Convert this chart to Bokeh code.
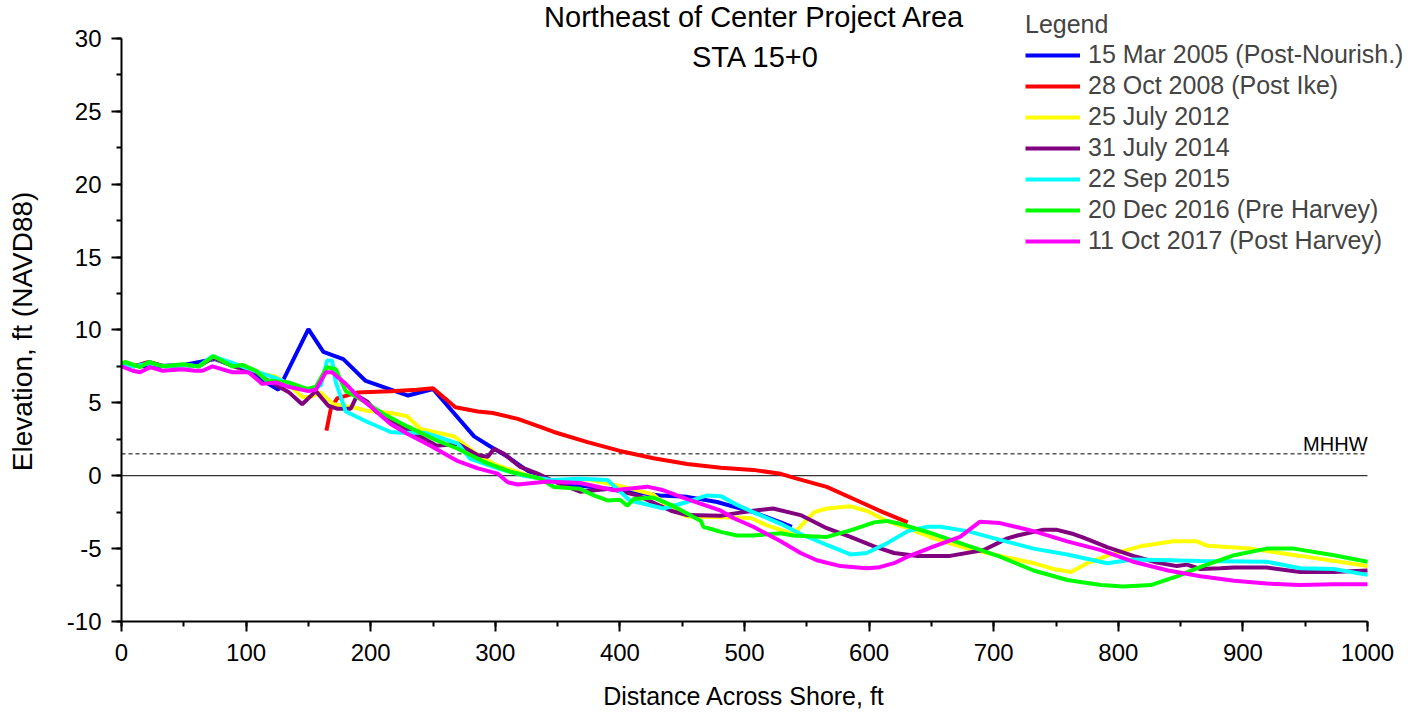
from bokeh.plotting import figure
from bokeh.models import Range1d, FixedTicker, Label, Legend, LegendItem
from bokeh.embed import file_html
from bokeh.resources import INLINE

# ---------------- data ----------------
series_names = [
    "15 Mar 2005 (Post-Nourish.)",
    "28 Oct 2008 (Post Ike)",
    "25 July 2012",
    "31 July 2014",
    "22 Sep 2015",
    "20 Dec 2016 (Pre Harvey)",
    "11 Oct 2017 (Post Harvey)",
]
series_colors = ["#0000FF", "#FF0000", "#FFFF00", "#800080", "#00FFFF", "#00FF00", "#FF00FF"]

blue_pts = [(0, 7.6), (20, 7.5), (50, 7.6), (75, 8.0), (100, 7.2), (110, 6.7), (126, 5.9),
            (150, 10.05), (162, 8.5), (178, 8.0), (196, 6.5), (230, 5.5), (250, 5.95),
            (283, 2.7), (296, 2.0), (310, 1.3), (323, 0.5), (336, -0.2), (360, -0.6),
            (395, -0.95), (432, -1.35), (454, -1.45), (478, -1.8), (507, -2.5), (529, -3.2),
            (538, -3.5)]

red_pts = [(164.5, 3.1), (168, 4.6), (173, 5.3), (189, 5.7), (216, 5.8), (237, 5.9), (250, 6.0),
           (268, 4.7), (286, 4.4), (298, 4.3), (318, 3.9), (336, 3.35), (347, 3.0), (374, 2.3),
           (400, 1.7), (427, 1.2), (454, 0.8), (481, 0.55), (507, 0.4), (529, 0.13), (542, -0.2),
           (566, -0.77), (593, -1.8), (611, -2.5), (631, -3.2)]

yellow_pts = [(0, 7.6), (10, 7.5), (22, 7.8), (35, 7.5), (50, 7.6), (62, 7.5), (74, 8.1), (90, 7.5),
              (100, 7.3), (113, 7.0), (124, 6.8), (135, 6.2), (145, 5.4), (152, 5.4), (160, 5.7),
              (170, 4.9), (186, 4.7), (197, 4.45), (216, 4.3), (229, 4.1), (240, 3.2), (251, 3.0),
              (267, 2.7), (283, 1.6), (299, 0.8), (323, 0.1), (345, -0.4), (374, -0.25), (400, -0.7),
              (427, -1.3), (441, -2.3), (454, -2.8), (481, -2.85), (505, -2.9), (518, -3.4),
              (539, -4.0), (556, -2.5), (566, -2.25), (585, -2.1), (598, -2.4), (614, -3.1),
              (631, -3.6), (652, -4.3), (679, -5.0), (705, -5.5), (732, -6.0), (748, -6.4),
              (762, -6.6), (775, -6.0), (794, -5.4), (820, -4.8), (844, -4.5), (863, -4.5),
              (871, -4.8), (906, -5.0), (946, -5.5), (1000, -6.2)]

purple_pts = [(0, 7.6), (10, 7.5), (22, 7.8), (35, 7.5), (50, 7.6), (62, 7.5), (74, 8.1), (90, 7.5),
              (100, 7.3), (108, 7.1), (116, 6.6), (134, 5.75), (145, 4.9), (156, 5.8), (166, 4.8),
              (173, 4.6), (184, 4.6), (189, 5.5), (197, 5.1), (205, 4.35), (229, 3.2), (253, 2.05),
              (270, 2.2), (286, 1.4), (294, 1.3), (299, 1.85), (307, 1.5), (320, 0.6), (334, 0.14),
              (350, -0.5), (368, -1.1), (392, -0.9), (414, -1.35), (441, -2.4), (454, -2.7),
              (481, -2.75), (491, -2.6), (507, -2.4), (523, -2.25), (545, -2.7), (566, -3.6),
              (585, -4.2), (604, -4.85), (620, -5.3), (639, -5.5), (665, -5.5), (692, -5.1),
              (711, -4.3), (719, -4.1), (740, -3.7), (750, -3.7), (764, -4.0), (772, -4.25),
              (791, -4.9), (812, -5.5), (831, -5.95), (847, -6.2), (855, -6.1), (866, -6.4),
              (882, -6.35), (893, -6.3), (919, -6.3), (946, -6.6), (973, -6.6), (1000, -6.5)]

cyan_pts = [(0, 7.6), (10, 7.5), (22, 7.7), (35, 7.5), (50, 7.6), (62, 7.5), (73, 8.2), (90, 7.7),
            (100, 7.4), (113, 7.0), (124, 6.7), (134, 6.3), (150, 5.9), (160, 6.2), (165, 7.9),
            (169, 7.9), (172, 6.4), (180, 4.4), (197, 3.7), (216, 3.0), (224, 2.95), (243, 2.95),
            (253, 2.7), (270, 2.2), (280, 1.15), (302, 0.5), (323, 0.0), (345, -0.3), (368, -0.2),
            (390, -0.3), (408, -1.7), (435, -2.25), (454, -1.8), (470, -1.35), (481, -1.4),
            (494, -2.0), (507, -2.5), (518, -2.9), (529, -3.3), (545, -4.0), (566, -4.75),
            (585, -5.4), (598, -5.3), (614, -4.65), (631, -3.8), (647, -3.5), (657, -3.5),
            (679, -3.8), (705, -4.4), (732, -5.0), (759, -5.4), (791, -6.0), (812, -5.75),
            (840, -5.8), (866, -5.85), (919, -5.9), (946, -6.35), (973, -6.4), (1000, -6.8)]

green_pts = [(0, 7.7), (3, 7.8), (15, 7.45), (22, 7.8), (33, 7.5), (49, 7.65), (62, 7.5), (74, 8.2),
             (89, 7.5), (97, 7.6), (108, 7.2), (116, 6.55), (134, 6.4), (149, 5.95), (156, 6.1),
             (165, 7.45), (172, 7.3), (180, 5.8), (189, 5.4), (210, 4.25), (229, 3.4), (251, 2.5),
             (270, 1.85), (291, 0.95), (312, 0.27), (336, -0.2), (347, -0.77), (368, -0.9),
             (379, -1.35), (390, -1.7), (400, -1.65), (406, -2.05), (411, -1.6), (427, -1.5),
             (441, -2.0), (465, -3.1), (467, -3.5), (481, -3.85), (494, -4.1), (507, -4.1),
             (529, -3.95), (539, -4.1), (566, -4.2), (585, -3.75), (604, -3.2), (614, -3.1),
             (625, -3.3), (652, -4.0), (679, -4.8), (705, -5.55), (732, -6.5), (759, -7.15),
             (786, -7.5), (804, -7.6), (826, -7.5), (847, -6.9), (866, -6.25), (893, -5.45),
             (919, -5.0), (941, -5.0), (973, -5.45), (1000, -5.9)]

magenta_pts = [(0, 7.5), (9, 7.2), (15, 7.1), (23, 7.45), (33, 7.2), (49, 7.3), (59, 7.2), (65, 7.2),
               (73, 7.5), (89, 7.1), (102, 7.1), (113, 6.3), (124, 6.4), (134, 6.1), (150, 5.8),
               (156, 5.9), (164, 7.1), (169, 7.1), (180, 6.3), (189, 5.5), (202, 4.6), (216, 3.55),
               (229, 2.9), (248, 2.05), (270, 1.0), (286, 0.5), (302, 0.14), (310, -0.45),
               (318, -0.6), (342, -0.4), (368, -0.5), (395, -1.0), (422, -0.75), (435, -1.0),
               (454, -1.6), (481, -2.4), (491, -2.9), (507, -3.5), (518, -4.0), (529, -4.5),
               (545, -5.3), (558, -5.8), (577, -6.2), (598, -6.35), (607, -6.3), (620, -6.0),
               (631, -5.55), (652, -4.85), (673, -4.2), (689, -3.15), (705, -3.25), (732, -3.8),
               (759, -4.5), (786, -5.1), (812, -5.9), (840, -6.5), (866, -6.9), (893, -7.2),
               (919, -7.4), (946, -7.5), (973, -7.45), (1000, -7.45)]

all_series = [blue_pts, red_pts, yellow_pts, purple_pts, cyan_pts, green_pts, magenta_pts]

mhhw_level = 1.5
ref_x = [0, 1000]                      # extent of the reference lines / x axis
y_bounds = (-10, 30)
x_ticks = list(range(0, 1001, 100))
x_minor = list(range(0, 1001, 50))
y_ticks = list(range(-10, 31, 5))
y_minor = [v / 2 for v in range(-20, 61, 5)]

title_lines = ["Northeast of Center Project Area", "STA 15+0"]
x_label = "Distance Across Shore, ft"
y_label = "Elevation, ft (NAVD88)"

FONT = "Liberation Sans"
NBSP = "\u00a0"

# ---------------- figure ----------------
# The frame is extended up and to the right (beyond the axis bounds) so that the
# title and legend, which sit above/right of the axes in the reference, are not clipped.
p = figure(width=1408, height=712, x_range=Range1d(0, 1032.9), y_range=Range1d(-10, 32.46),
           output_backend="svg", toolbar_location=None,
           min_border_left=121, min_border_right=0, min_border_top=2, min_border_bottom=89)
p.outline_line_color = None
p.grid.visible = False
p.background_fill_color = "white"
p.border_fill_color = "white"

for ax in (p.xaxis[0], p.yaxis[0]):
    ax.axis_line_width = 2
    ax.major_tick_line_width = 2
    ax.minor_tick_line_width = 2
    ax.major_tick_out = 10
    ax.major_tick_in = 0
    ax.minor_tick_out = 5
    ax.minor_tick_in = 0
    ax.major_label_text_font = FONT
    ax.major_label_text_font_size = "24px"
    ax.major_label_text_color = "black"
    ax.axis_label_text_font = FONT
    ax.axis_label_text_font_style = "normal"
    ax.axis_label_text_color = "black"

p.xaxis.axis_label_text_font_size = "25px"
p.yaxis.axis_label_text_font_size = "28px"
p.xaxis.bounds = (ref_x[0], ref_x[1])
p.yaxis.bounds = y_bounds
p.xaxis.ticker = FixedTicker(ticks=x_ticks, minor_ticks=x_minor)
p.yaxis.ticker = FixedTicker(ticks=y_ticks, minor_ticks=y_minor)
p.yaxis.major_label_overrides = {t: str(t) for t in y_ticks}
# trailing no-break spaces re-centre the labels on the drawn axes (the frame is wider/taller)
p.xaxis.axis_label = x_label + NBSP * 6
p.yaxis.axis_label = y_label + NBSP * 5
p.xaxis.major_label_standoff = 12
p.xaxis.axis_label_standoff = 18
p.yaxis.major_label_standoff = 10
p.yaxis.axis_label_standoff = 26

# reference lines (zero and MHHW)
p.line(ref_x, [0, 0], line_color="black", line_width=1)
p.line(ref_x, [mhhw_level, mhhw_level], line_color="black", line_width=1, line_dash="4 3")
p.add_layout(Label(x=ref_x[1], y=mhhw_level, text="MHHW", text_align="right",
                   text_baseline="bottom", y_offset=-1, text_font=FONT, text_font_size="20px",
                   text_color="black"))

# series
items = []
for name, color, pts in zip(series_names, series_colors, all_series):
    xs = [a for a, b in pts]
    ys = [b for a, b in pts]
    r = p.line(xs, ys, line_color=color, line_width=4)
    items.append(LegendItem(label=name, renderers=[r]))

legend = Legend(items=items, location=(904, 366), title="Legend",
                title_text_font=FONT, title_text_font_size="25px", title_text_font_style="normal",
                title_standoff=1,
                label_text_font=FONT, label_text_font_size="25px",
                glyph_width=55, glyph_height=20, label_standoff=8, spacing=2,
                padding=0, margin=0, border_line_color=None, background_fill_alpha=0)
p.add_layout(legend, "center")

# title as two centred lines
p.add_layout(Label(x=508, y=31.45, text=title_lines[0], text_align="center", text_baseline="middle",
                   text_font=FONT, text_font_size="29px", text_color="black"))
p.add_layout(Label(x=509, y=28.72, text=title_lines[1], text_align="center", text_baseline="middle",
                   text_font=FONT, text_font_size="29px", text_color="black"))

open("out.html", "w").write(file_html(p, INLINE))
